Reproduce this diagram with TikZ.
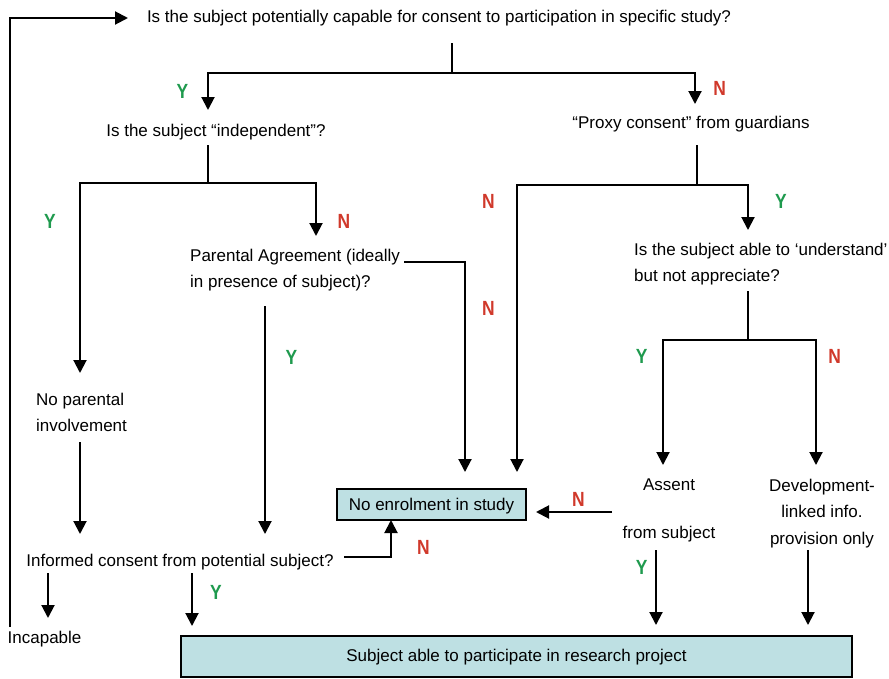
\documentclass[tikz,border=0pt]{standalone}
\usepackage{fontspec}
\setmainfont{Liberation Sans}
\newfontfamily\lblfont{Liberation Sans}[FakeStretch=0.85]
\usetikzlibrary{arrows.meta}
\definecolor{yescol}{HTML}{1F9A4E}
\definecolor{nocol}{HTML}{D0392B}
\definecolor{boxfill}{HTML}{BEE0E3}
\begin{document}
\begin{tikzpicture}[x=1pt,y=-1pt,
  txt/.style={font=\fontsize{17}{26.7}\selectfont, inner sep=0pt},
  ylab/.style={font=\lblfont\bfseries\fontsize{20.5}{20.5}\selectfont, text=yescol, inner sep=0pt},
  nlab/.style={font=\lblfont\bfseries\fontsize{20.5}{20.5}\selectfont, text=nocol, inner sep=0pt},
  conn/.style={line width=2pt, line join=miter},
  arr/.style={conn, -{Triangle[width=13pt,length=13pt]}},
  resbox/.style={draw, line width=2pt, fill=boxfill, font=\fontsize{17}{20}\selectfont, inner sep=0pt}]
\useasboundingbox (0,0) rectangle (889,678);

% ---- text nodes
\node[txt, anchor=base] (q1) at (439,22.5) {Is the subject potentially capable for consent to participation in specific study?};
\node[txt, anchor=base] (q2) at (216,136.5) {Is the subject “independent”?};
\node[txt, anchor=base] (q3) at (691,128) {“Proxy consent” from guardians};
\node[txt, anchor=north west, align=left] (q4) at (190,248.6) {Parental Agreement (ideally\\in presence of subject)?};
\node[txt, anchor=north west, align=left] (q5) at (634,242.6) {Is the subject able to ‘understand’\\but not appreciate?};
\node[txt, anchor=north west, align=left] (np) at (36,392.6) {No parental\\involvement};
\node[txt, anchor=base] (q6) at (180,566) {Informed consent from potential subject?};
\node[txt, anchor=base west] (inc) at (7.5,643) {Incapable};
\node[txt, anchor=north, align=center] (ass) at (669,478.6) {Assent\\[21.3pt]from subject};
\node[txt, anchor=north, align=center] (dev) at (822,478.6) {Development-\\linked info.\\provision only};
\node[resbox, minimum width=189pt, minimum height=31pt, text height=12.5pt, text depth=0pt] (noenr) at (431.5,504.5) {No enrolment in study};
\node[resbox, minimum width=671pt, minimum height=41pt, text height=12.5pt, text depth=2.5pt] (part) at (516.5,656) {Subject able to participate in research project};

% ---- Y / N labels
\node[ylab] (y1) at (182.5,91.5) {Y};
\node[nlab] (n1) at (719.7,88.3) {N};
\node[ylab] (y2) at (50,221) {Y};
\node[nlab] (n2) at (344,221) {N};
\node[nlab] (n3) at (488.3,201.7) {N};
\node[ylab] (y3) at (781,201.7) {Y};
\node[nlab] (n4) at (488.3,308.3) {N};
\node[ylab] (y4) at (291.5,357) {Y};
\node[ylab] (y5) at (641.7,356) {Y};
\node[nlab] (n5) at (834.7,356) {N};
\node[nlab] (n6) at (578.5,499) {N};
\node[nlab] (n7) at (423.5,547.5) {N};
\node[ylab] (y6) at (216,592.5) {Y};
\node[ylab] (y7) at (641.7,567) {Y};

% ---- connector points
\coordinate (t0) at (452,43);
\coordinate (t1) at (452,73);
\coordinate (ty) at (208,110);
\coordinate (tn) at (695,104);
\coordinate (l0) at (10,627);
\coordinate (l1) at (128,18);
\coordinate (i0) at (208,145);
\coordinate (i1) at (208,183);
\coordinate (iy) at (80,373);
\coordinate (in) at (316,236);
\coordinate (p0) at (404,262);
\coordinate (pn) at (465,472);
\coordinate (py0) at (265,306);
\coordinate (py1) at (265,534);
\coordinate (x0) at (697,145);
\coordinate (x1) at (697,185);
\coordinate (xn) at (517,472);
\coordinate (xy) at (748,230);
\coordinate (u0) at (748,291);
\coordinate (u1) at (748,340);
\coordinate (uy) at (663,465);
\coordinate (un) at (816,465);
\coordinate (np0) at (80,442);
\coordinate (np1) at (80,534);
\coordinate (c0) at (344,557);
\coordinate (c1) at (391,520);
\coordinate (ci0) at (48,573);
\coordinate (ci1) at (48,618);
\coordinate (cy0) at (192,573);
\coordinate (cy1) at (192,626);
\coordinate (an0) at (612,512);
\coordinate (an1) at (536,512);
\coordinate (ay0) at (656,550);
\coordinate (ay1) at (656,625);
\coordinate (d0) at (808,550);
\coordinate (d1) at (808,625);

% ---- connectors
\draw[arr] (l0) |- (l1);
\draw[conn] (t0) -- (t1);
\draw[arr] (t1) -| (ty);
\draw[arr] (t1) -| (tn);
\draw[conn] (i0) -- (i1);
\draw[arr] (i1) -| (iy);
\draw[arr] (i1) -| (in);
\draw[arr] (p0) -| (pn);
\draw[arr] (py0) -- (py1);
\draw[conn] (x0) -- (x1);
\draw[arr] (x1) -| (xn);
\draw[arr] (x1) -| (xy);
\draw[conn] (u0) -- (u1);
\draw[arr] (u1) -| (uy);
\draw[arr] (u1) -| (un);
\draw[arr] (np0) -- (np1);
\draw[arr] (c0) -| (c1);
\draw[arr] (ci0) -- (ci1);
\draw[arr] (cy0) -- (cy1);
\draw[arr] (an0) -- (an1);
\draw[arr] (ay0) -- (ay1);
\draw[arr] (d0) -- (d1);
\end{tikzpicture}
\end{document}
